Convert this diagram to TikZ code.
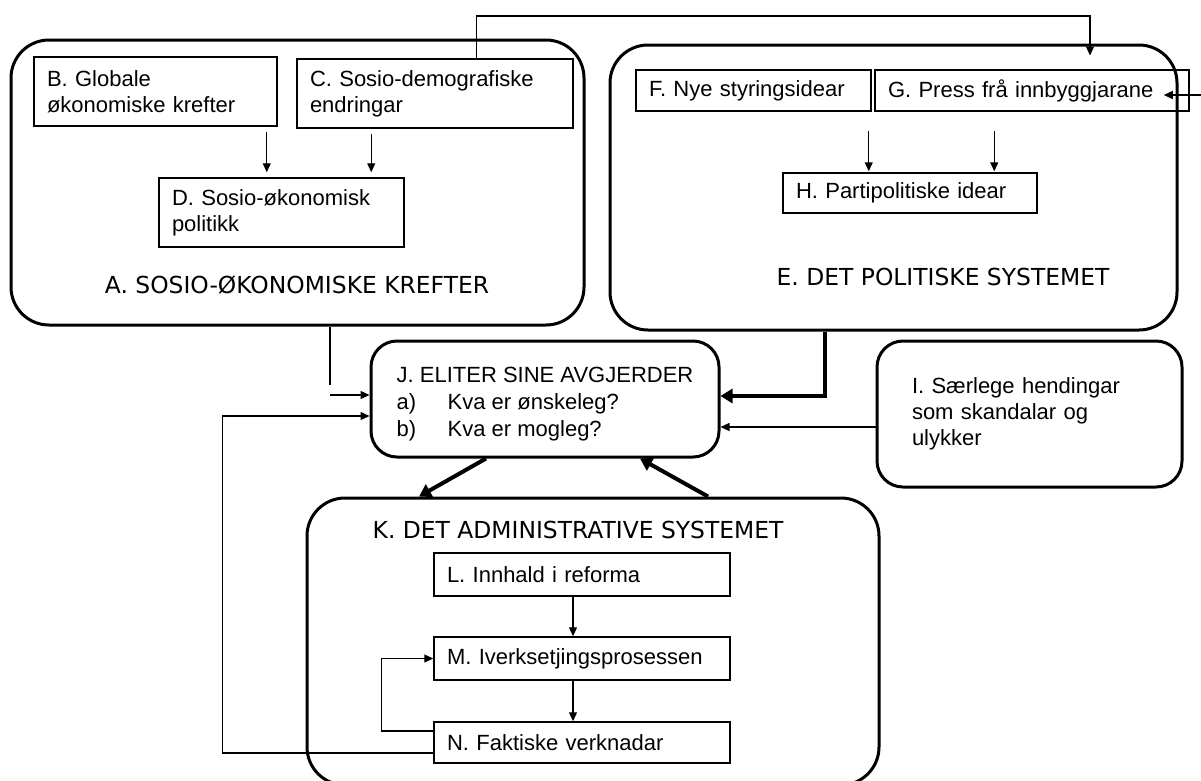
\documentclass[tikz,border=0pt]{standalone}
\usepackage{fontspec}
\setmainfont{Liberation Sans}
\newfontfamily\capsfont{DejaVu Sans}
\usetikzlibrary{arrows.meta}

\tikzset{
  txt/.style={font=\fontsize{22}{26}\selectfont},
  sysbox/.style={draw, line width=3pt, rounded corners=38pt},
  evbox/.style={draw, line width=3pt, rounded corners=26pt, txt},
  rbox/.style={draw, line width=1.5pt, align=left, inner ysep=0pt, inner xsep=13pt, txt},
  syslabel/.style={font=\capsfont\fontsize{23.4}{28}\selectfont},
  arr/.style={line width=1.2pt, -{Triangle[length=9pt,width=8pt]}},
  plain/.style={line width=1.2pt},
  bigarr/.style={line width=4pt, -{Triangle[length=12pt,width=14pt]}}
}

\begin{document}
\begin{tikzpicture}[x=1pt, y=-1pt]
\useasboundingbox (0,0) rectangle (1201,780);

% the three systems
\node[sysbox, minimum width=573pt, minimum height=285pt] (A) at (297.5,182.5) {};
\node[sysbox, minimum width=567pt, minimum height=285pt] (E) at (893.5,187.5) {};
\node[sysbox, minimum width=572pt, minimum height=287pt] (K) at (593,641.5) {};

\node[syslabel] (lA) at (297,285) {A. SOSIO-ØKONOMISKE KREFTER};
\node[syslabel] (lE) at (943,277) {E. DET POLITISKE SYSTEMET};
\node[syslabel] (lK) at (578,530) {K. DET ADMINISTRATIVE SYSTEMET};

% A
\node[rbox, text width=217pt, minimum height=69pt] (B) at (155.5,91.5) {B. Globale\\økonomiske krefter};
\node[rbox, text width=250pt, minimum height=69pt] (C) at (435,93.5) {C. Sosio-demografiske\\endringar};
\node[rbox, text width=219pt, minimum height=69pt] (D) at (281.5,212.5) {D. Sosio-økonomisk\\politikk};

% E
\node[rbox, text width=209pt, minimum height=41pt] (F) at (753.5,90.5) {F. Nye styringsidear};
\node[rbox, text width=288pt, minimum height=41pt] (G) at (1032,90.5) {G. Press frå innbyggjarane};
\node[rbox, text width=228pt, minimum height=40pt] (H) at (910,193) {H. Partipolitiske idear};

% J and I
\node[evbox, align=left, font=\fontsize{22}{27}\selectfont, minimum width=348pt, minimum height=116pt] (J) at (545,399)
  {\rule{0pt}{26pt}J. ELITER SINE AVGJERDER\\\makebox[51pt][l]{a)}Kva er ønskeleg?\\\makebox[51pt][l]{b)}Kva er mogleg?};
\node[evbox, align=left, text width=235pt, inner xsep=35pt, minimum height=146pt] (I) at (1029.5,414)
  {I. Særlege hendingar\\som skandalar og\\ulykker\\[20pt]};

% K
\node[rbox, text width=270pt, minimum height=43pt] (L) at (582,574.5) {L. Innhald i reforma};
\node[rbox, text width=270pt, minimum height=43pt] (M) at (582,658.5) {M. Iverksetjingsprosessen};
\node[rbox, text width=270pt, minimum height=41pt] (N) at (582,742.5) {N. Faktiske verknadar};

% arrows inside A and E
\draw[arr, shorten <=5pt, shorten >=5pt] ([xshift=-11pt]B.south east) -- ([xshift=-11pt]B.south east |- D.north);
\draw[arr, shorten <=5pt, shorten >=5pt] ([xshift=75pt]C.south west) -- ([xshift=75pt]C.south west |- D.north);
\draw[arr, shorten <=19pt, shorten >=1pt] ([xshift=-3pt]F.south east) -- ([xshift=-3pt]F.south east |- H.north);
\draw[arr, shorten <=19pt, shorten >=1pt] ([xshift=120pt]G.south west) -- ([xshift=120pt]G.south west |- H.north);

% C to E over the top
\coordinate (topE) at (1090,16);
\draw[arr] ([xshift=180pt]C.north west) |- (topE) -- ([yshift=-12pt]topE |- E.north);
\coordinate (inG) at (1201,95);
\draw[arr] (inG) -- ([xshift=-26pt,yshift=-4.5pt]G.east);

% into J
\draw[plain] ([xshift=32.5pt]A.south) -- ++(0,58);
\coordinate (aJ) at (330,395);
\draw[arr] (aJ) -- (aJ -| J.west);
\draw[bigarr] ([xshift=-68.5pt]E.south) |- ([yshift=3pt]J.east);
\draw[arr] ([yshift=-13pt]I.west) -- ([yshift=-13pt]I.west -| J.east);

% between J and K
\draw[bigarr] ([xshift=-59pt]J.south) -- ([xshift=-174pt]K.north);
\draw[bigarr] ([xshift=115pt]K.north) -- ([xshift=95pt]J.south);

% inside K
\draw[arr] ([xshift=-9pt]L.south) -- ([xshift=-9pt]L.south |- M.north);
\draw[arr] ([xshift=-9pt]M.south) -- ([xshift=-9pt]M.south |- N.north);
\draw[arr] ([yshift=11.5pt]N.west) -- ++(-52,0) |- (M.west);
\draw[arr] ([yshift=-10.5pt]N.west) -- ++(-211,0) |- ([yshift=-17pt]J.west);
\end{tikzpicture}
\end{document}
